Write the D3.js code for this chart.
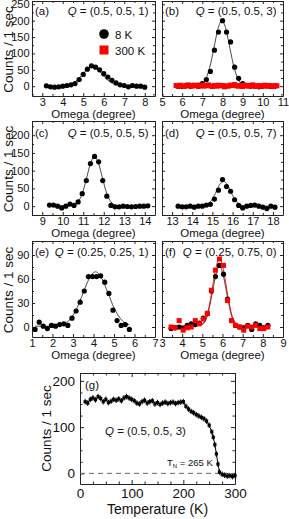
<!DOCTYPE html>
<html>
<head>
<meta charset="utf-8">
<script src="https://cdn.jsdelivr.net/npm/d3@7"></script>
<style>
  body { margin: 0; background: #fff; }
  svg { display: block; font-family: "Liberation Sans", Arial, sans-serif; }
</style>
</head>
<body>
<div id="chart"></div>
<script>
// ---- data ----

// (a) Q = (0.5, 0.5, 1), 8 K
const omegaA = [3.2, 3.4, 3.6, 3.8, 4.0, 4.2, 4.4, 4.6, 4.8, 5.0, 5.2, 5.4, 5.6, 5.8, 6.0, 6.2, 6.4, 6.6, 6.8, 7.0, 7.2, 7.4, 7.6, 7.8, 8.0];
const countsA = [1, -2, -3, -2, 0, 2, 4, 8, 20, 36, 52, 62, 58, 50, 38, 28, 18, 10, 4, 2, -2, 2, 0, 0, -3];
const fitOmegaA = [3.2, 4.0, 4.4, 4.7, 5.0, 5.2, 5.45, 5.7, 5.9, 6.2, 6.5, 6.9, 8.0];
const fitCountsA = [0, 2, 7, 18, 38, 52, 60, 52, 38, 18, 7, 2, 0];

// (b) Q = (0.5, 0.5, 3), 8 K and 300 K
const omegaB8 = [5.8, 6.0, 6.2, 6.4, 6.6, 6.8, 7.0, 7.2, 7.4, 7.6, 7.8, 8.0, 8.2, 8.4, 8.6, 8.8, 9.0, 9.2, 9.4, 9.6, 9.8, 10.0, 10.2, 10.4, 10.6];
const countsB8 = [0, -1, 1, 0, 2, 3, 8, 20, 45, 110, 165, 200, 165, 135, 58, 24, 8, 2, 0, 0, -2, 0, 1, -1, 0];
const omegaB300 = [5.7, 5.8, 5.9, 6.0, 6.1, 6.2, 6.3, 6.4, 6.5, 6.6, 6.7, 6.8, 6.9, 7.0, 7.1, 7.2, 7.3, 7.4, 7.5, 7.6, 7.7, 7.8, 7.9, 8.0, 8.1, 8.2,
  8.3, 8.4, 8.5, 8.6, 8.7, 8.8, 8.9, 9.0, 9.1, 9.2, 9.3, 9.4, 9.5, 9.6, 9.7, 9.8, 9.9, 10.0, 10.1, 10.2, 10.3, 10.4, 10.5, 10.6, 10.7];
const countsB300 = [2, 0, 3, 1, -1, 2, 4, 1, 0, 3, 2, -1, 1, 3, 0, 2, 4, 1, -1, 2, 0, 3, 1, 2, -2, 1,
  0, 3, 2, 5, 1, 0, 2, -1, 3, 1, 0, 2, 4, 1, -1, 2, 0, 1, 3, 0, 2, 1, -1, 2, 1];
const fitOmegaB = [5.8, 6.8, 6.97, 7.17, 7.37, 7.57, 7.77, 7.97, 8.17, 8.37, 8.57, 8.77, 8.97, 9.17, 10.6];
const fitCountsB = [0, 1, 6, 22, 58, 115, 174, 200, 174, 115, 58, 22, 6, 1, 0];

// (c) Q = (0.5, 0.5, 5)
const omegaC = [9.35, 9.55, 9.75, 9.95, 10.15, 10.35, 10.55, 10.75, 10.95, 11.15, 11.35, 11.55, 11.75, 11.95, 12.15, 12.35, 12.55, 12.75, 12.95, 13.15, 13.35, 13.55, 13.75, 13.95, 14.15];
const countsC = [3, 3, 0, -5, 0, 6, 2, 12, 35, 72, 120, 140, 125, 72, 28, 2, -2, -2, 0, -1, -2, -1, 0, 0, 1];
const fitOmegaC = [9.35, 10.35, 10.55, 10.75, 10.95, 11.15, 11.35, 11.55, 11.75, 11.95, 12.15, 12.35, 12.55, 12.75, 14.15];
const fitCountsC = [0, 1, 3, 12, 35, 76, 120, 140, 120, 76, 35, 12, 3, 1, 0];

// (d) Q = (0.5, 0.5, 7)
const omegaD = [13.3, 13.5, 13.7, 13.9, 14.1, 14.3, 14.5, 14.7, 14.9, 15.1, 15.3, 15.5, 15.7, 15.9, 16.1, 16.3, 16.5, 16.7, 16.9, 17.1, 17.3, 17.5, 17.7, 17.9, 18.1];
const countsD = [0, -2, -2, 0, -3, 0, 0, 3, 5, 20, 45, 75, 55, 42, 18, 2, -5, 0, 2, 3, 0, -3, -7, 0, -3];
const fitOmegaD = [13.3, 14.35, 14.55, 14.75, 14.95, 15.15, 15.35, 15.55, 15.75, 15.95, 16.15, 16.35, 16.55, 16.75, 18.1];
const fitCountsD = [0, 0, 1, 5, 16, 36, 60, 70, 60, 36, 16, 5, 1, 0, 0];

// (e) Q = (0.25, 0.25, 1)
const omegaE = [1.15, 1.35, 1.55, 1.75, 1.95, 2.15, 2.35, 2.55, 2.75, 2.95, 3.15, 3.35, 3.55, 3.75, 3.95, 4.15, 4.35, 4.55, 4.75, 4.95, 5.15, 5.35, 5.55, 5.75];
const countsE = [-3, 6, 1, -2, 2, 1, 3, 4, 2, 11, 20, 31, 45, 63, 63, 63, 64, 56, 42, 21, 8, 2, 3, -3];
const fitOmegaE = [1.15, 2.0, 2.3, 2.6, 2.9, 3.2, 3.5, 3.8, 4.1, 4.4, 4.7, 5.0, 5.3, 5.6, 5.75];
const fitCountsE = [1, 1, 2, 4, 11, 24, 43, 61, 69, 61, 43, 24, 11, 4, 3];

// (f) Q = (0.25, 0.75, 0), 8 K and 300 K
const omegaF = [3.45, 3.65, 3.85, 4.05, 4.25, 4.45, 4.65, 4.85, 5.05, 5.25, 5.45, 5.65, 5.85, 6.05, 6.25, 6.45, 6.65, 6.85, 7.05, 7.25, 7.45, 7.65, 7.85, 8.05, 8.25];
const countsF8 = [-2, -1, 0, -2, 2, 4, 3, 5, 11, 17, 45, 63, 77, 66, 35, 8, 2, 0, -2, 2, -3, 4, 2, -1, 2];
const countsF300 = [0, -1, 8, -4, -1, 0, 8, 4, 10, 17, 46, 71, 85, 77, 33, 8, 2, 0, -4, 1, 0, 2, -2, -2, 0];
const fitOmegaF = [3.45, 4.85, 5.05, 5.25, 5.45, 5.65, 5.85, 6.05, 6.25, 6.45, 6.65, 6.85, 8.25];
const fitCountsF8 = [1, 2, 4, 14, 37, 63, 76, 63, 37, 14, 4, 2, 1];
const fitCountsF300 = [1, 2, 5, 16, 41, 71, 86, 71, 41, 16, 5, 2, 1];

// (g) temperature dependence at Q = (0.5, 0.5, 3)
const tempG = [10, 15, 20, 25, 30, 35, 40, 45, 50, 55, 60, 65, 70, 75, 80, 85, 90, 95, 100, 105, 110, 115, 120, 125, 130, 135, 140, 145,
  150, 155, 160, 165, 170, 175, 180, 185, 190, 195, 200, 205, 210, 215, 220, 225, 230, 235, 240, 245, 250, 255, 258, 261, 264, 267,
  270, 275, 280, 285, 290, 295, 300];
const countsG = [155, 152, 160, 163, 159, 166, 162, 155, 160, 153, 156, 160, 158, 161, 157, 163, 166, 163, 160, 157, 152, 150, 155, 158, 152, 155, 157, 150,
  153, 149, 152, 154, 151, 153, 154, 151, 153, 154, 155, 145, 139, 134, 131, 127, 124, 121, 118, 113, 104, 90, 78, 62, 42, 20,
  3, -2, -4, -6, -5, -7, -5];
const errorG = 6;
const tempNeel = 265;

// tick labels
const xTicksA = [3, 4, 5, 6, 7, 8];
const xTicksB = [5, 6, 7, 8, 9, 10, 11];
const xTicksC = [9, 10, 11, 12, 13, 14];
const xTicksD = [13, 14, 15, 16, 17, 18];
const xTicksE = [1, 2, 3, 4, 5, 6, 7];
const xTicksF = [3, 4, 5, 6, 7, 8, 9];
const yTicksRow1 = [0, 50, 100, 150, 200, 250];
const yTicksRow2 = [0, 50, 100, 150, 200];
const yTicksRow3 = [0, 30, 60, 90];
const xTicksG = [0, 100, 200, 300];
const yTicksG = [0, 100, 200];

// ---- layout ----
const width = 289, height = 519;
const cols = [[32, 155], [162, 283]];
const rows = [[96, 1], [215, 121], [337, 241]];
const rowDomains = [[-30, 260], [-25, 240], [-12.5, 107.5]];
const rowTicks = [yTicksRow1, yTicksRow2, yTicksRow3];
const frameColor = "#222";
const fontFamily = "'Liberation Sans', Arial, sans-serif";

const svg = d3.select("#chart")
  .append("svg")
  .attr("width", width)
  .attr("height", height);

const panels = [
  { tag: "(a)", q: "(0.5, 0.5, 1)", col: 0, row: 0, xDomain: [2.5, 8.5], xTicks: xTicksA,
    fits: [{ x: fitOmegaA, y: fitCountsA, color: "#333" }],
    sets: [{ x: omegaA, y: countsA, shape: "circle" }] },
  { tag: "(b)", q: "(0.5, 0.5, 3)", col: 1, row: 0, xDomain: [5, 11], xTicks: xTicksB,
    fits: [{ x: fitOmegaB, y: fitCountsB, color: "#333" }],
    sets: [{ x: omegaB8, y: countsB8, shape: "circle" }, { x: omegaB300, y: countsB300, shape: "square" }] },
  { tag: "(c)", q: "(0.5, 0.5, 5)", col: 0, row: 1, xDomain: [8.5, 14.5], xTicks: xTicksC,
    fits: [{ x: fitOmegaC, y: fitCountsC, color: "#333" }],
    sets: [{ x: omegaC, y: countsC, shape: "circle" }] },
  { tag: "(d)", q: "(0.5, 0.5, 7)", col: 1, row: 1, xDomain: [12.5, 18.5], xTicks: xTicksD,
    fits: [{ x: fitOmegaD, y: fitCountsD, color: "#333" }],
    sets: [{ x: omegaD, y: countsD, shape: "circle" }] },
  { tag: "(e)", q: "(0.25, 0.25, 1)", col: 0, row: 2, xDomain: [1, 7], xTicks: xTicksE,
    fits: [{ x: fitOmegaE, y: fitCountsE, color: "#333" }],
    sets: [{ x: omegaE, y: countsE, shape: "circle" }] },
  { tag: "(f)", q: "(0.25, 0.75, 0)", col: 1, row: 2, xDomain: [3, 9], xTicks: xTicksF,
    fits: [{ x: fitOmegaF, y: fitCountsF8, color: "#333" }, { x: fitOmegaF, y: fitCountsF300, color: "#e00" }],
    sets: [{ x: omegaF, y: countsF8, shape: "circle" }, { x: omegaF, y: countsF300, shape: "square" }] },
];

// inward ticks on all four sides, labels on bottom (and left for left column)
function drawAxes(g, x, y, opt) {
  const [bottom, top] = y.range();
  const [left, right] = x.range();
  const fmt = (axis) => axis.tickSizeOuter(0);

  const styleAxis = (sel, size) => {
    sel.attr("font-family", fontFamily).attr("font-size", size).attr("color", frameColor);
    sel.selectAll("text").attr("fill", "#111");
  };

  g.append("g").attr("transform", `translate(0,${bottom})`)
    .call(fmt(d3.axisBottom(x).tickValues(opt.xTicks).tickSize(-opt.major).tickPadding(opt.xPad).tickFormat(d3.format("d"))))
    .call(styleAxis, opt.fontSize);
  g.append("g").attr("transform", `translate(0,${top})`)
    .call(fmt(d3.axisTop(x).tickValues(opt.xTicks).tickSize(-opt.major).tickFormat("")))
    .call(styleAxis, opt.fontSize);
  g.append("g").attr("transform", `translate(${left},0)`)
    .call(fmt(d3.axisLeft(y).tickValues(opt.yTicks).tickSize(-opt.major).tickPadding(opt.yPad)
      .tickFormat(opt.yLabels ? d3.format("d") : "")))
    .call(styleAxis, opt.fontSize);
  g.append("g").attr("transform", `translate(${right},0)`)
    .call(fmt(d3.axisRight(y).tickValues(opt.yTicks).tickSize(-opt.major).tickFormat("")))
    .call(styleAxis, opt.fontSize);

  // minor ticks
  const minor = (axisFn, sc, vals, tr) => {
    g.append("g").attr("transform", tr)
      .call(axisFn(sc).tickValues(vals).tickSize(-opt.minor).tickFormat(""))
      .call((s) => s.select(".domain").remove())
      .attr("color", frameColor);
  };
  minor(d3.axisBottom, x, opt.xMinor, `translate(0,${bottom})`);
  minor(d3.axisTop, x, opt.xMinor, `translate(0,${top})`);
  minor(d3.axisLeft, y, opt.yMinor, `translate(${left},0)`);
  minor(d3.axisRight, y, opt.yMinor, `translate(${right},0)`);
}

function midpoints(ticks, domain) {
  const step = ticks[1] - ticks[0];
  const out = [];
  for (let v = ticks[0] - step / 2; v <= domain[1]; v += step) {
    if (v >= domain[0]) out.push(v);
  }
  return out;
}

function qText(sel, xPos, yPos, label, anchor) {
  const t = sel.append("text")
    .attr("x", xPos).attr("y", yPos)
    .attr("text-anchor", anchor)
    .attr("font-size", 11.5)
    .attr("fill", "#111");
  t.append("tspan").attr("font-style", "italic").text("Q");
  t.append("tspan").text(" = " + label);
}

panels.forEach((p) => {
  const x = d3.scaleLinear().domain(p.xDomain).range(cols[p.col]);
  const y = d3.scaleLinear().domain(rowDomains[p.row]).range(rows[p.row]);
  const g = svg.append("g");
  const yTicks = rowTicks[p.row];

  drawAxes(g, x, y, {
    xTicks: p.xTicks, yTicks: yTicks, yLabels: p.col === 0,
    xMinor: midpoints(p.xTicks, p.xDomain), yMinor: midpoints(yTicks, rowDomains[p.row]),
    major: 3, minor: 2, xPad: 2.5, yPad: 2.5, fontSize: 11,
  });

  // fitted curves
  const line = d3.line().x((d) => x(d[0])).y((d) => y(d[1])).curve(d3.curveMonotoneX);
  p.fits.forEach((f) => {
    g.append("path")
      .datum(d3.zip(f.x, f.y))
      .attr("d", line)
      .attr("fill", "none")
      .attr("stroke", f.color)
      .attr("stroke-width", 0.9);
  });

  // measured points
  p.sets.forEach((s) => {
    const pts = d3.zip(s.x, s.y);
    if (s.shape === "circle") {
      g.append("g").selectAll("circle")
        .data(pts)
        .join("circle")
        .attr("cx", (d) => x(d[0]))
        .attr("cy", (d) => y(d[1]))
        .attr("r", 2.6)
        .attr("fill", "#000");
    } else {
      g.append("g").selectAll("rect")
        .data(pts)
        .join("rect")
        .attr("x", (d) => x(d[0]) - 2.5)
        .attr("y", (d) => y(d[1]) - 2.5)
        .attr("width", 5)
        .attr("height", 5)
        .attr("fill", "#f00");
    }
  });

  // panel tag and Q label
  const [left, right] = cols[p.col];
  const top = rows[p.row][1];
  const labelY = top + [13.5, 15.5, 15][p.row];
  g.append("text").attr("x", left + 3).attr("y", labelY)
    .attr("font-size", 11.5).attr("fill", "#111").text(p.tag);
  qText(g, right - 6.5, labelY, p.q, "end");

  // x title
  g.append("text")
    .attr("x", (left + right) / 2)
    .attr("y", rows[p.row][0] + 22)
    .attr("text-anchor", "middle")
    .attr("font-size", 11.5)
    .attr("fill", "#111")
    .text("Omega (degree)");

  // y title
  if (p.col === 0) {
    g.append("text")
      .attr("transform", `translate(13,${(rows[p.row][0] + top) / 2 + 1}) rotate(-90)`)
      .attr("text-anchor", "middle")
      .attr("font-size", 13.5)
      .attr("fill", "#111")
      .text("Counts / 1 sec");
  }
});

// legend in (a)
const legend = svg.append("g");
legend.append("circle").attr("cx", 104).attr("cy", 34).attr("r", 4.8).attr("fill", "#000");
legend.append("text").attr("x", 115).attr("y", 38.5).attr("font-size", 11.5).attr("fill", "#111").text("8 K");
legend.append("rect").attr("x", 99.5).attr("y", 45.5).attr("width", 9).attr("height", 9).attr("fill", "#f00");
legend.append("text").attr("x", 115).attr("y", 54.5).attr("font-size", 11.5).attr("fill", "#111").text("300 K");

// ---- (g) temperature scan ----
const xG = d3.scaleLinear().domain([0, 300]).range([80, 235]);
const yG = d3.scaleLinear().domain([-23, 217]).range([484, 373]);
const gG = svg.append("g");

drawAxes(gG, xG, yG, {
  xTicks: xTicksG, yTicks: yTicksG, yLabels: true,
  xMinor: d3.range(25, 300, 25).filter((v) => v % 100 !== 0),
  yMinor: d3.range(-0, 217, 25).filter((v) => v % 100 !== 0),
  major: 4, minor: 2.5, xPad: 4, yPad: 5, fontSize: 13.5,
});

// zero reference line
gG.append("line")
  .attr("x1", xG(0)).attr("x2", xG(300))
  .attr("y1", yG(0)).attr("y2", yG(0))
  .attr("stroke", "#666")
  .attr("stroke-width", 1)
  .attr("stroke-dasharray", "5,4");

const ptsG = d3.zip(tempG, countsG);
gG.append("path")
  .datum(ptsG)
  .attr("d", d3.line().x((d) => xG(d[0])).y((d) => yG(d[1])))
  .attr("fill", "none")
  .attr("stroke", "#000")
  .attr("stroke-width", 1);

gG.append("g").selectAll("line")
  .data(ptsG)
  .join("line")
  .attr("x1", (d) => xG(d[0])).attr("x2", (d) => xG(d[0]))
  .attr("y1", (d) => yG(d[1] - errorG)).attr("y2", (d) => yG(d[1] + errorG))
  .attr("stroke", "#000")
  .attr("stroke-width", 1);

gG.append("g").selectAll("rect")
  .data(ptsG)
  .join("rect")
  .attr("x", (d) => xG(d[0]) - 1.6)
  .attr("y", (d) => yG(d[1]) - 1.6)
  .attr("width", 3.2)
  .attr("height", 3.2)
  .attr("fill", "#000");

gG.append("text").attr("x", 85).attr("y", 389).attr("font-size", 11.5).attr("fill", "#111").text("(g)");
qText(gG, 105, 435, "(0.5, 0.5, 3)", "start");

const tn = gG.append("text").attr("x", 167).attr("y", 466).attr("font-size", 9.5).attr("fill", "#111");
tn.append("tspan").text("T");
tn.append("tspan").attr("font-size", 6).attr("dy", 2).text("N");
tn.append("tspan").attr("dy", -2).text(" = " + tempNeel + " K");

gG.append("text")
  .attr("transform", `translate(51,${(484 + 373) / 2}) rotate(-90)`)
  .attr("text-anchor", "middle")
  .attr("font-size", 13.5)
  .attr("fill", "#111")
  .text("Counts / 1 sec");

gG.append("text")
  .attr("x", (80 + 235) / 2)
  .attr("y", 514)
  .attr("text-anchor", "middle")
  .attr("font-size", 14)
  .attr("fill", "#111")
  .text("Temperature (K)");
</script>
</body>
</html>
